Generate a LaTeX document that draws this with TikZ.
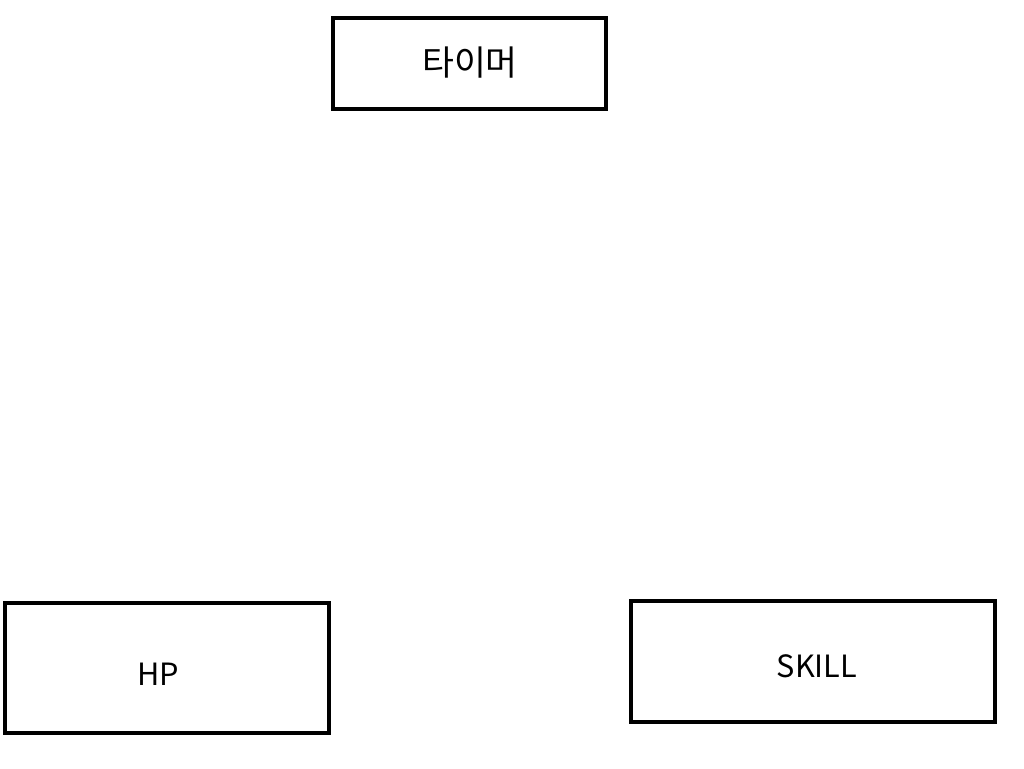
\documentclass[tikz,border=0pt]{standalone}
\usepackage{fontspec}
\setmainfont{Noto Sans CJK KR}
\begin{document}
\begin{tikzpicture}[x=0.75pt,y=-0.75pt,
  box/.style={draw=black,line width=3.4pt,rectangle,inner sep=0pt,anchor=center},
  lbl/.style={font=\fontsize{23pt}{27pt}\selectfont,inner sep=0pt,anchor=center}]
\useasboundingbox (0,0) rectangle (1024,768);
\node[box,minimum width=273*0.75pt,minimum height=91*0.75pt] (timer) at (469.5,63.5) {};
\node[box,minimum width=324*0.75pt,minimum height=130*0.75pt] (hp) at (167,668) {};
\node[box,minimum width=364*0.75pt,minimum height=121*0.75pt] (skill) at (813,661.5) {};
\node[lbl,font=\fontsize{26pt}{30pt}\selectfont] (timerT) at (470,63) {타이머};
\node[lbl] (hpT) at (158,674) {HP};
\node[lbl] (skillT) at (817,666) {SKILL};
\end{tikzpicture}
\end{document}
